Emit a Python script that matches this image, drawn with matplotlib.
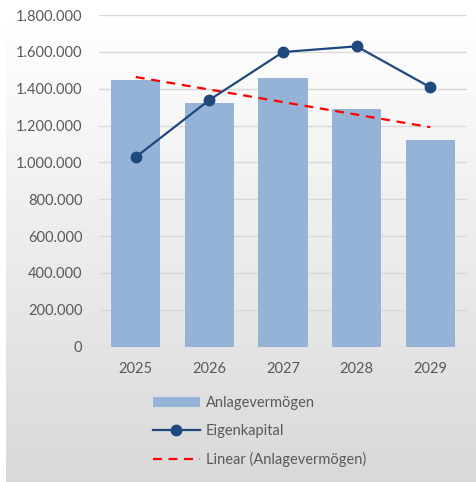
import numpy as np
import matplotlib
matplotlib.use("Agg")
import matplotlib.pyplot as plt
from matplotlib.ticker import FuncFormatter

# data
years = ["2025", "2026", "2027", "2028", "2029"]
anlagevermoegen = [1447000, 1321000, 1458000, 1288000, 1123000]
eigenkapital = [1029000, 1339000, 1599000, 1630000, 1408000]
y_ticks = [0, 200000, 400000, 600000, 800000, 1000000, 1200000, 1400000, 1600000, 1800000]

plt.rcParams["font.family"] = ["Lato", "DejaVu Sans"]
text_col = "#595959"

fig = plt.figure(figsize=(4.77, 4.82), dpi=100)

# gradient background panel
bg = fig.add_axes([6 / 477, 0, 471 / 477, 462 / 482])
grad = np.linspace(1, 0, 256).reshape(-1, 1)
top = np.array([1.0, 1.0, 1.0])
bottom = np.array([0.85, 0.85, 0.85])
img = bottom + (top - bottom) * grad[..., None]
img = img.reshape(256, 1, 3)
bg.imshow(img, aspect="auto", extent=[0, 1, 0, 1])
bg.set_axis_off()

ax = fig.add_axes([99 / 477, 135.3 / 482, 368 / 477, 331.7 / 482])
ax.set_facecolor("none")
x = np.arange(len(years))
bars = ax.bar(x, anlagevermoegen, width=0.667, color="#95b3d7", zorder=2,
              label="Anlagevermögen")
line, = ax.plot(x, eigenkapital, color="#1f497d", lw=1.6, marker="o", ms=7.5,
                zorder=4, label="Eigenkapital")
coef = np.polyfit(x, anlagevermoegen, 1)
trend, = ax.plot(x, np.polyval(coef, x), color="#ff0000", lw=1.6,
                 ls=(0, (4, 3)), zorder=3, label="Linear (Anlagevermögen)")

ax.set_xlim(-0.5, len(years) - 0.5)
ax.set_ylim(0, 1800000)
ax.set_yticks(y_ticks)
ax.yaxis.set_major_formatter(FuncFormatter(lambda v, p: f"{int(v):,}".replace(",", ".")))
ax.set_xticks(x)
ax.set_xticklabels(years)
ax.grid(axis="y", color="#d9d9d9", lw=1, zorder=0)
for s in ax.spines.values():
    s.set_visible(False)
ax.tick_params(length=0, labelsize=10.5, colors=text_col)
ax.tick_params(axis="x", pad=11)
ax.tick_params(axis="y", pad=12)

leg = fig.legend(handles=[bars, line, trend], loc="upper left",
                 bbox_to_anchor=(140 / 477, 1 - 383 / 482), frameon=False,
                 fontsize=10.5, handlelength=3.2, handletextpad=0.4,
                 labelspacing=0.95, labelcolor=text_col)

fig.savefig("out.png", dpi=100)
